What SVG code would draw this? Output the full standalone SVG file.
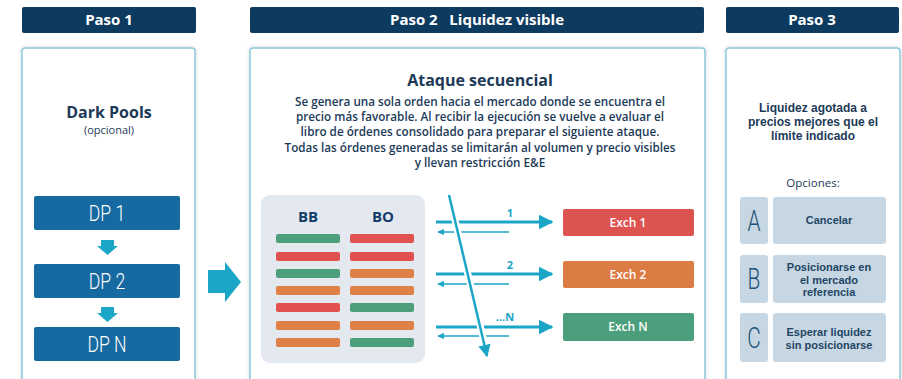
<svg xmlns="http://www.w3.org/2000/svg" width="902" height="379" viewBox="0 0 902 379">
<defs>
<style>
.hdr{fill:#0d3b5f}
.hdrt{font-family:"Open Sans","DejaVu Sans",sans-serif;font-weight:700;font-size:15px;fill:#ffffff;text-anchor:middle}
.panel{fill:#ffffff;stroke:#8cc8dc;stroke-width:1.5}
.dp{fill:#1769a1}
.dpt{font-family:Roboto,"DejaVu Sans",sans-serif;font-weight:300;font-size:22px;fill:#ffffff;text-anchor:middle}
.cy{fill:#1ba6c8}
.t{font-family:"Open Sans","DejaVu Sans",sans-serif;fill:#1c3a58;text-anchor:middle}
.b{font-weight:700}
.sb{font-weight:600}
.p3{font-family:"Liberation Sans",Arial,sans-serif;font-weight:700;font-size:12px;fill:#1c3a58;text-anchor:middle}
.g{fill:#4d9f7b}.r{fill:#e0514f}.o{fill:#df8046}
.fw{stroke:#1ba6c8;stroke-width:3;fill:none}
.rt{stroke:#1ba6c8;stroke-width:1.3;fill:none}
.ex{font-family:"Open Sans","DejaVu Sans",sans-serif;font-weight:600;font-size:12px;fill:#ffffff;text-anchor:middle}
.opt{fill:#c6d7e3}
.let{font-family:Roboto,"DejaVu Sans",sans-serif;font-weight:300;font-size:29px;fill:#1d5377;text-anchor:middle}
.ot{font-family:"Liberation Sans",Arial,sans-serif;font-weight:700;font-size:11px;fill:#1f4564;text-anchor:middle}
.lab{font-family:"Open Sans","DejaVu Sans",sans-serif;font-weight:700;font-size:11px;fill:#1ba6c8;text-anchor:middle}
</style>
<filter id="sh" x="-5%" y="-5%" width="110%" height="110%"><feDropShadow dx="0" dy="0" stdDeviation="2" flood-color="#000" flood-opacity="0.15"/></filter>
<marker id="ah" viewBox="0 0 10 10" refX="9" refY="5" markerWidth="5" markerHeight="5" orient="auto" markerUnits="strokeWidth"><path d="M0,0 L10,5 L0,10 z" fill="#1ba6c8"/></marker>
</defs>
<rect width="902" height="379" fill="#ffffff"/>

<g id="headers">
<rect class="hdr" x="22" y="7" width="174" height="26" rx="2"/>
<text class="hdrt" x="109" y="25">Paso 1</text>
<rect class="hdr" x="250" y="7" width="454" height="26" rx="2"/>
<text class="hdrt" x="477" y="25" xml:space="preserve">Paso 2   Liquidez visible</text>
<rect class="hdr" x="726" y="7" width="173" height="26" rx="2"/>
<text class="hdrt" x="812" y="25">Paso 3</text>
</g>

<g id="panel1">
<rect class="panel" filter="url(#sh)" x="22" y="48" width="173" height="340" rx="3"/>
<text class="t b" x="109" y="118" font-size="16">Dark Pools</text>
<text class="t" x="109" y="134" font-size="11">(opcional)</text>
</g>
<g id="dp1"><rect class="dp" x="34" y="196" width="146" height="34" rx="2"/><text class="dpt" x="107" y="221" transform="translate(107 0) scale(0.8 1) translate(-107 0)">DP 1</text></g>
<g id="dp2"><rect class="dp" x="34" y="264" width="146" height="34" rx="2"/><text class="dpt" x="107" y="289" transform="translate(107 0) scale(0.8 1) translate(-107 0)">DP 2</text></g>
<g id="dpn"><rect class="dp" x="34" y="327" width="146" height="34" rx="2"/><text class="dpt" x="107" y="352" transform="translate(107 0) scale(0.8 1) translate(-107 0)">DP N</text></g>

<g id="panel2">
<rect class="panel" filter="url(#sh)" x="250" y="48" width="455" height="340" rx="3"/>
<text class="t b" x="480" y="86" font-size="16">Ataque secuencial</text>
<g font-size="11.7">
<text class="t sb" x="480" y="106">Se genera una sola orden hacia el mercado donde se encuentra el</text>
<text class="t sb" x="480" y="121">precio más favorable. Al recibir la ejecución se vuelve a evaluar el</text>
<text class="t sb" x="480" y="136">libro de órdenes consolidado para preparar el siguiente ataque.</text>
<text class="t sb" x="480" y="152">Todas las órdenes generadas se limitarán al volumen y precio visibles</text>
<text class="t sb" x="480" y="167">y llevan restricción E&amp;E</text>
</g>
</g>

<g id="orderbook">
<rect x="261" y="195" width="164" height="168" rx="9" fill="#e4e9ef"/>
<text class="t b" x="308" y="222" font-size="15" style="fill:#123d6a">BB</text>
<text class="t b" x="383" y="222" font-size="15" style="fill:#123d6a">BO</text>
<rect class="g" x="276" y="234" width="64" height="9" rx="2"/>
<rect class="r" x="276" y="252" width="64" height="9" rx="2"/>
<rect class="g" x="276" y="269" width="64" height="9" rx="2"/>
<rect class="o" x="276" y="286" width="64" height="9" rx="2"/>
<rect class="r" x="276" y="303" width="64" height="9" rx="2"/>
<rect class="o" x="276" y="321" width="64" height="9" rx="2"/>
<rect class="o" x="276" y="338" width="64" height="9" rx="2"/>
<rect class="r" x="350" y="234" width="64" height="9" rx="2"/>
<rect class="r" x="350" y="252" width="64" height="9" rx="2"/>
<rect class="o" x="350" y="269" width="64" height="9" rx="2"/>
<rect class="o" x="350" y="286" width="64" height="9" rx="2"/>
<rect class="g" x="350" y="303" width="64" height="9" rx="2"/>
<rect class="o" x="350" y="321" width="64" height="9" rx="2"/>
<rect class="g" x="350" y="338" width="64" height="9" rx="2"/>
</g>

<g id="exch1"><rect x="563" y="209" width="131" height="27" rx="2" fill="#dc5350"/><text class="ex" x="628" y="227">Exch 1</text></g>
<g id="exch2"><rect x="563" y="261" width="131" height="27" rx="2" fill="#dc7c45"/><text class="ex" x="628" y="279">Exch 2</text></g>
<g id="exchn"><rect x="563" y="313" width="131" height="28" rx="2" fill="#4c9f7c"/><text class="ex" x="628" y="331">Exch N</text></g>

<g id="connectors">
<path class="fw" d="M436,222 H552" marker-end="url(#ah)"/>
<path class="fw" d="M436,274 H552" marker-end="url(#ah)"/>
<path class="fw" d="M436,327 H552" marker-end="url(#ah)"/>
<path class="rt" d="M509,232 H438" marker-end="url(#ah)"/>
<path class="rt" d="M509,284 H438" marker-end="url(#ah)"/>
<path class="rt" d="M509,336 H438" marker-end="url(#ah)"/>
<path d="M449,195 L486,350" stroke="#ffffff" stroke-width="7" fill="none"/>
<path d="M449,195 L487,356" stroke="#1ba6c8" stroke-width="2.5" fill="none" marker-end="url(#ah)"/>
<text class="lab" x="510" y="217">1</text>
<text class="lab" x="510" y="269">2</text>
<text class="lab" x="505" y="321">...N</text>
<path class="cy" d="M101,240 H114 V246 H118 L107.5,255 L97,246 H101 Z"/>
<path class="cy" d="M101,307 H114 V313 H118 L107.5,322 L97,313 H101 Z"/>
<path class="cy" d="M208,270 H225 V262 L241,282 L225,302 V293 H208 Z"/>
</g>

<g id="panel3">
<rect class="panel" filter="url(#sh)" x="726" y="48" width="174" height="340" rx="3"/>
<text class="p3" x="813" y="112">Liquidez agotada a</text>
<text class="p3" x="813" y="126">precios mejores que el</text>
<text class="p3" x="813" y="140">límite indicado</text>
<text class="t" x="813" y="187" font-size="11.5">Opciones:</text>
</g>
<g id="optA">
<rect class="opt" x="740" y="197" width="28" height="47" rx="3"/>
<rect class="opt" x="773" y="197" width="113" height="47" rx="3"/>
<text class="let" x="754" y="231" transform="translate(754 0) scale(0.72 1) translate(-754 0)">A</text>
<text class="ot" x="829" y="224">Cancelar</text>
</g>
<g id="optB">
<rect class="opt" x="740" y="255" width="28" height="48" rx="3"/>
<rect class="opt" x="773" y="255" width="113" height="48" rx="3"/>
<text class="let" x="754" y="289" transform="translate(754 0) scale(0.72 1) translate(-754 0)">B</text>
<text class="ot" x="829" y="271">Posicionarse en</text>
<text class="ot" x="829" y="283.5">el mercado</text>
<text class="ot" x="829" y="296">referencia</text>
</g>
<g id="optC">
<rect class="opt" x="740" y="313" width="28" height="49" rx="3"/>
<rect class="opt" x="773" y="313" width="113" height="49" rx="3"/>
<text class="let" x="754" y="348" transform="translate(754 0) scale(0.72 1) translate(-754 0)">C</text>
<text class="ot" x="829" y="336">Esperar liquidez</text>
<text class="ot" x="829" y="349">sin posicionarse</text>
</g>
</svg>
